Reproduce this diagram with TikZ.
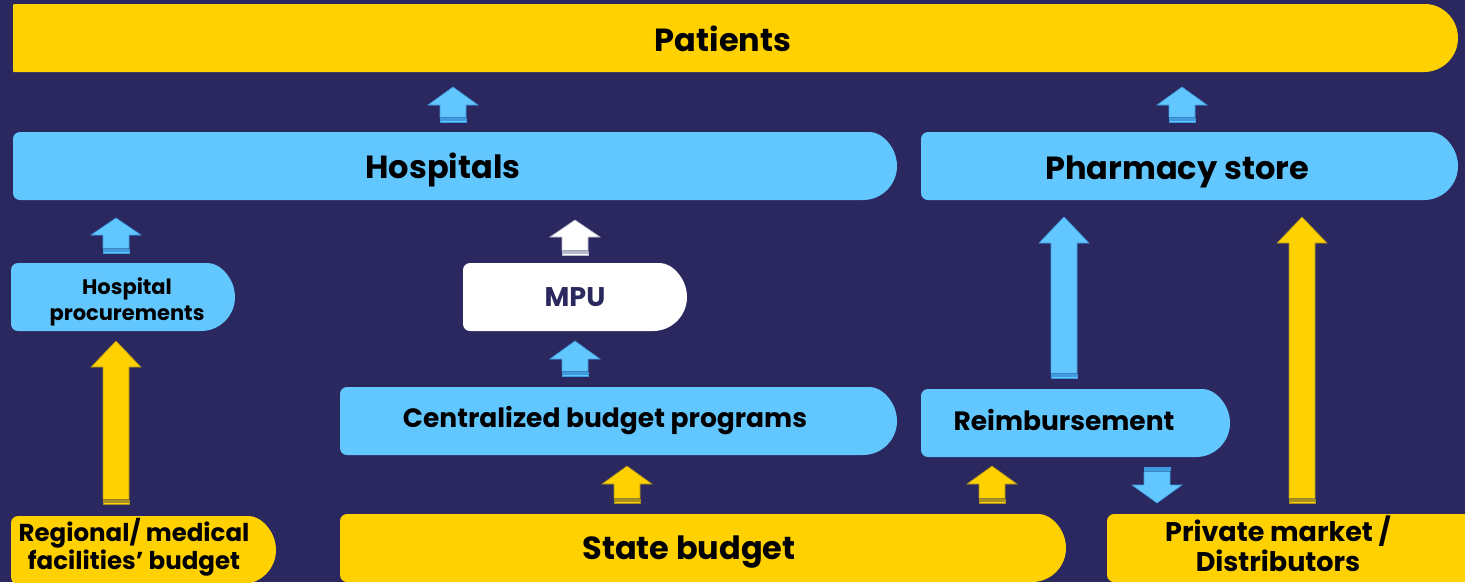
\documentclass[tikz,border=0pt]{standalone}
\usepackage{fontspec}
\setmainfont{Poppins}
\usetikzlibrary{calc}
\definecolor{navy}{HTML}{2A285E}
\definecolor{gold}{HTML}{FFD100}
\definecolor{sky}{HTML}{63C7FF}
\definecolor{skyline}{HTML}{3F9AE0}
\definecolor{goldline}{HTML}{A8901E}
\definecolor{whiteline}{HTML}{B8B8CC}
\tikzset{
  pill/.style 2 args={shape=rectangle, inner sep=0pt, path picture={
    \fill[#1] let \p1=(path picture bounding box.south west),
                  \p2=(path picture bounding box.north east),
                  \n1={(\y2-\y1)/2} in
      (\x2-\n1,\y1) [rounded corners=#2] -- (\x1,\y1) -- (\x1,\y2) -- (\x2-\n1,\y2)
      [sharp corners] arc[start angle=90,end angle=-90,radius=\n1] -- cycle;}},
  lbl/.style={anchor=base, align=center, inner sep=0pt, font=\bfseries},
  bluearr/.style={fill=sky, draw=skyline, line width=0.6pt},
  goldarr/.style={fill=gold, draw=goldline, line width=0.6pt},
  whitearr/.style={fill=white, draw=whiteline, line width=0.6pt},
}
\newcommand\blockarrow[5]{%
  \pgfmathsetmacro\bkDir{(#4>#3)?1:-1}%
  \pgfmathsetmacro\bkHb{#4-\bkDir*#5}%
  \pgfmathsetmacro\bkA{#3+\bkDir*1.3}%
  \pgfmathsetmacro\bkB{#3+\bkDir*2.3}%
  \pgfmathsetmacro\bkC{#3+\bkDir*3.6}%
  \pgfmathsetmacro\bkD{#3+\bkDir*4.6}%
  \filldraw[#1] (#2-13,\bkD) -- (#2-13,\bkHb) -- (#2-25,\bkHb) -- (#2,#4)
     -- (#2+25,\bkHb) -- (#2+13,\bkHb) -- (#2+13,\bkD) -- cycle;
  \filldraw[#1] (#2-13,\bkB) rectangle (#2+13,\bkC);
  \filldraw[#1] (#2-13,#3) rectangle (#2+13,\bkA);
}
\begin{document}
\begin{tikzpicture}[x=1pt,y=-1pt]
\clip (0,0) rectangle (1465,582);
\fill[navy] (0,0) rectangle (1465,582);

% boxes
\node[pill={gold}{1pt}, minimum width=1445pt, minimum height=68pt] (patients) at (735.5,38) {};
\node[pill={sky}{7pt}, minimum width=884pt, minimum height=68pt] (hosp) at (455,166) {};
\node[pill={sky}{7pt}, minimum width=537pt, minimum height=68pt] (pharm) at (1189.5,166) {};
\node[pill={sky}{7pt}, minimum width=224pt, minimum height=68pt] (hproc) at (123,297) {};
\node[pill={white}{7pt}, minimum width=224pt, minimum height=68pt] (mpu) at (575,297) {};
\node[pill={sky}{7pt}, minimum width=557pt, minimum height=68pt] (central) at (618.5,421) {};
\node[pill={sky}{7pt}, minimum width=309pt, minimum height=68pt] (reimb) at (1075.5,423) {};
\node[pill={gold}{7pt}, minimum width=265pt, minimum height=68pt] (regional) at (143.5,550) {};
\node[pill={gold}{7pt}, minimum width=726pt, minimum height=68pt] (state) at (703,548) {};
\node[pill={gold}{7pt}, minimum width=393pt, minimum height=68pt] (private) at (1303.5,548) {};

% labels
\node[lbl, font=\bfseries\fontsize{32}{36}\selectfont] (tpat) at (723,51) {Patients};
\node[lbl, font=\bfseries\fontsize{32}{36}\selectfont] (thosp) at (443,178) {Hospitals};
\node[lbl, font=\bfseries\fontsize{32}{36}\selectfont] (tpharm) at (1177,179) {Pharmacy store};
\node[lbl, font=\bfseries\fontsize{21}{26}\selectfont] (thproc) at (127,320) {Hospital\\procurements};
\node[lbl, font=\bfseries\fontsize{27}{30}\selectfont, text=navy] (tmpu) at (575,306) {MPU};
\node[lbl, font=\bfseries\fontsize{26.5}{30}\selectfont] (tcentral) at (605,427) {Centralized budget programs};
\node[lbl, font=\bfseries\fontsize{26.5}{30}\selectfont] (treimb) at (1064,430) {Reimbursement};
\node[lbl, font=\bfseries\fontsize{24.5}{28}\selectfont] (tregional) at (134,569) {Regional/ medical\\facilities’ budget};
\node[lbl, font=\bfseries\fontsize{32}{36}\selectfont] (tstate) at (689,559) {State budget};
\node[lbl, font=\bfseries\fontsize{27}{30}\selectfont] (tprivate) at (1278,571) {Private market /\\Distributors};

% block arrows: style, x, base y, tip y, head length
\blockarrow{bluearr}{453}{122}{87}{18}
\blockarrow{bluearr}{1182}{122}{87}{18}
\blockarrow{bluearr}{116}{253}{218}{17}
\blockarrow{whitearr}{575}{255}{220}{17}
\blockarrow{bluearr}{575}{376}{341}{18}
\blockarrow{goldarr}{116}{504}{341}{26}
\blockarrow{goldarr}{627}{503}{466}{18}
\blockarrow{goldarr}{992}{503}{466}{18}
\blockarrow{bluearr}{1157}{467}{503}{18}
\blockarrow{bluearr}{1064}{378}{217}{26}
\blockarrow{goldarr}{1302}{503}{217}{26}
\end{tikzpicture}
\end{document}
